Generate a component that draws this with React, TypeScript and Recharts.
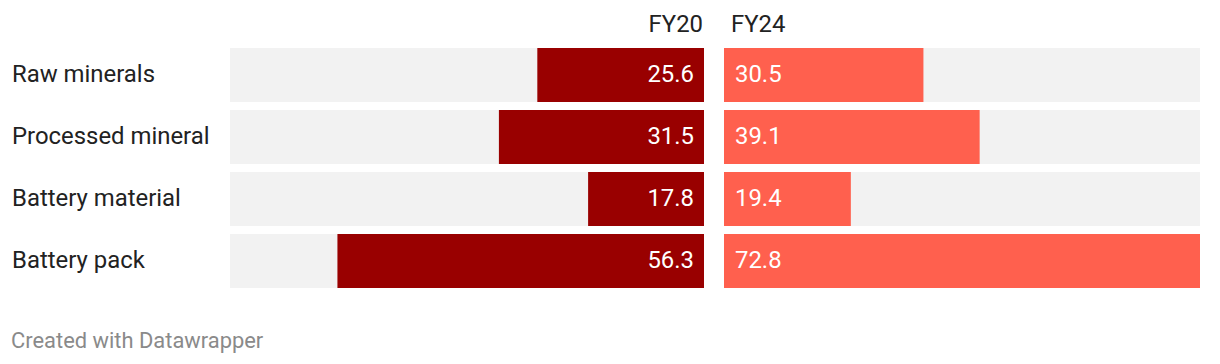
import { Bar, BarChart, LabelList, XAxis, YAxis } from "recharts";

const categories = [
  "Raw minerals",
  "Processed mineral",
  "Battery material",
  "Battery pack",
];
const fy20 = [25.6, 31.5, 17.8, 56.3];
const fy24 = [30.5, 39.1, 19.4, 72.8];
const seriesNames = ["FY20", "FY24"];
const maxValue = 72.8;

const rows = categories.map((name, i) => ({
  name,
  fy20: fy20[i],
  fy24: fy24[i],
}));

const FONT = "Roboto, 'Noto Sans', sans-serif";
const TEXT = "#222222";
const SIZE = 23.9;
const margin = { top: 44, right: 0, bottom: 8, left: 0 };

function NameTick(props: any) {
  const { y, payload } = props;
  return (
    <text
      x={12}
      y={y}
      dy="0.3em"
      textAnchor="start"
      fontFamily={FONT}
      fontSize={SIZE}
      fill={TEXT}
    >
      {payload.value}
    </text>
  );
}

function valueLabel(side: "left" | "right") {
  return (props: any) => {
    const { x, y, width, height, value } = props;
    const left = Math.min(x, x + width);
    const right = Math.max(x, x + width);
    return (
      <text
        x={side === "left" ? right - 10 : left + 11}
        y={y + height / 2}
        dy="0.3em"
        textAnchor={side === "left" ? "end" : "start"}
        fontFamily={FONT}
        fontSize={SIZE}
        fill="#ffffff"
      >
        {value}
      </text>
    );
  };
}

export default function App() {
  return (
    <div
      style={{
        position: "absolute",
        left: 0,
        top: 0,
        width: 1220,
        height: 364,
        background: "#ffffff",
      }}
    >
      <div style={{ position: "absolute", left: 0, top: 0 }}>
        <BarChart
          width={704}
          height={300}
          data={rows}
          layout="vertical"
          margin={margin}
          barSize={54}
        >
          <XAxis type="number" domain={[0, maxValue]} reversed hide />
          <YAxis
            type="category"
            dataKey="name"
            width={230}
            axisLine={false}
            tickLine={false}
            tick={<NameTick />}
          />
          <Bar
            dataKey="fy20"
            fill="#990000"
            background={{ fill: "#f2f2f2" }}
            isAnimationActive={false}
          >
            <LabelList dataKey="fy20" content={valueLabel("left")} />
          </Bar>
        </BarChart>
      </div>
      <div style={{ position: "absolute", left: 724, top: 0 }}>
        <BarChart
          width={476}
          height={300}
          data={rows}
          layout="vertical"
          margin={margin}
          barSize={54}
        >
          <XAxis type="number" domain={[0, maxValue]} hide />
          <YAxis type="category" dataKey="name" hide />
          <Bar
            dataKey="fy24"
            fill="#ff604e"
            background={{ fill: "#f2f2f2" }}
            isAnimationActive={false}
          >
            <LabelList dataKey="fy24" content={valueLabel("right")} />
          </Bar>
        </BarChart>
      </div>
      <svg
        width={1220}
        height={364}
        style={{ position: "absolute", left: 0, top: 0, pointerEvents: "none" }}
      >
        <text
          x={703}
          y={32}
          textAnchor="end"
          fontFamily={FONT}
          fontSize={SIZE}
          fill={TEXT}
        >
          {seriesNames[0]}
        </text>
        <text
          x={731}
          y={32}
          textAnchor="start"
          fontFamily={FONT}
          fontSize={SIZE}
          fill={TEXT}
        >
          {seriesNames[1]}
        </text>
        <text
          x={11}
          y={348}
          fontFamily={FONT}
          fontSize={21.9}
          fill="#8a8a8a"
        >
          Created with Datawrapper
        </text>
      </svg>
    </div>
  );
}
